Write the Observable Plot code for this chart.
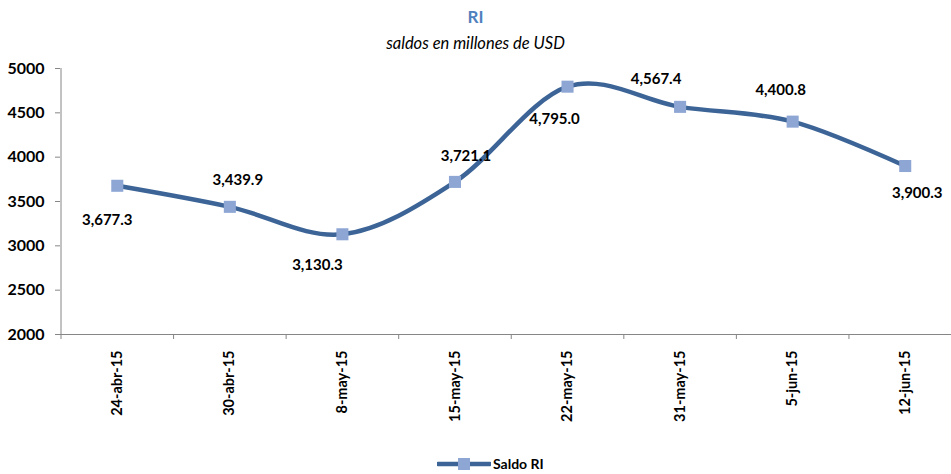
<!DOCTYPE html>
<html>
<head>
<meta charset="utf-8">
<script src="https://cdn.jsdelivr.net/npm/d3@7"></script>
<script src="https://cdn.jsdelivr.net/npm/@observablehq/plot@0.6"></script>
<style>
  html, body { margin: 0; padding: 0; background: #fff; }
  #wrap { position: relative; width: 951px; height: 474px; font-family: Lato, "Open Sans", sans-serif; }
  #title { position: absolute; top: 6px; left: 0; width: 951px; text-align: center; font-weight: bold; font-size: 17px; color: #4F81BD; }
  #subtitle { position: absolute; top: 33px; left: 0; width: 951px; text-align: center; font-style: italic; font-size: 16.5px; color: #000; }
  #legend { position: absolute; top: 455px; left: 437px; display: flex; align-items: center; font-weight: bold; font-size: 14px; color: #000; }
  #chart { position: absolute; top: 0; left: 0; }
</style>
</head>
<body>
<div id="wrap">
  <div id="chart"></div>
  <div id="title">RI</div>
  <div id="subtitle">saldos en millones de USD</div>
  <div id="legend">
    <svg width="54" height="14"><line x1="1" y1="7" x2="53" y2="7" stroke="#3C6497" stroke-width="4.5" stroke-linecap="round"/><rect x="21" y="1" width="12" height="12" fill="#8EA6D4"/></svg>
    <span style="margin-left:2px">Saldo RI</span>
  </div>
</div>
<script>
const dates = ["24-abr-15", "30-abr-15", "8-may-15", "15-may-15", "22-may-15", "31-may-15", "5-jun-15", "12-jun-15"];
const saldoRI = [3677.3, 3439.9, 3130.3, 3721.1, 4795.0, 4567.4, 4400.8, 3900.3];
const yTicks = [2000, 2500, 3000, 3500, 4000, 4500, 5000];
// label offsets (dx, dy) in pixels, as placed in the reference
const labelOffsets = [[-10, 34], [8, -27], [-25, 31], [11, -26], [-13, 33], [-24, -28], [-12, -31], [12, 27]];

const data = saldoRI.map((v, i) => ({i, date: dates[i], v}));
const fmt = d3.format(",.1f");
const boundaries = d3.range(dates.length + 1).map(k => k - 0.5);
const axisColor = "#868686";

const chart = Plot.plot({
  width: 951,
  height: 474,
  marginTop: 68,
  marginBottom: 140,
  marginLeft: 60,
  marginRight: 0,
  style: {fontFamily: "Lato, 'Open Sans', sans-serif", fontSize: "14px", fontWeight: "bold", color: "#000", background: "transparent"},
  x: {type: "linear", domain: [-0.5, dates.length - 0.5], range: [60.5, 961]},
  y: {domain: [2000, 5000], range: [334, 68]},
  marks: [
    Plot.ruleX([-0.5], {stroke: axisColor, strokeWidth: 1}),
    Plot.ruleY([2000], {stroke: axisColor, strokeWidth: 1}),
    Plot.axisY({ticks: yTicks, tickSize: 5, tickPadding: 11, stroke: axisColor, tickFormat: d => String(d), label: null, fill: "#000", fontSize: 16}),
    Plot.axisX({ticks: boundaries, tickSize: 5, tickFormat: () => "", stroke: axisColor, label: null}),
    Plot.axisX({ticks: d3.range(dates.length), tickSize: 0, tickPadding: 16, tickRotate: -90, tickFormat: k => dates[k], label: null, fill: "#000", fontSize: 14.5}),
    Plot.line(data, {x: "i", y: "v", curve: "cardinal", stroke: "#3C6497", strokeWidth: 4.5}),
    Plot.dot(data, {x: "i", y: "v", symbol: "square", r: 6.8, fill: "#8EA6D4", stroke: "none"}),
    ...labelOffsets.map((o, k) => Plot.text([data[k]], {x: "i", y: "v", text: d => fmt(d.v), dx: o[0], dy: o[1], fill: "#000", fontSize: 15, fontWeight: "bold"}))
  ]
});
document.getElementById("chart").appendChild(chart);
</script>
</body>
</html>
